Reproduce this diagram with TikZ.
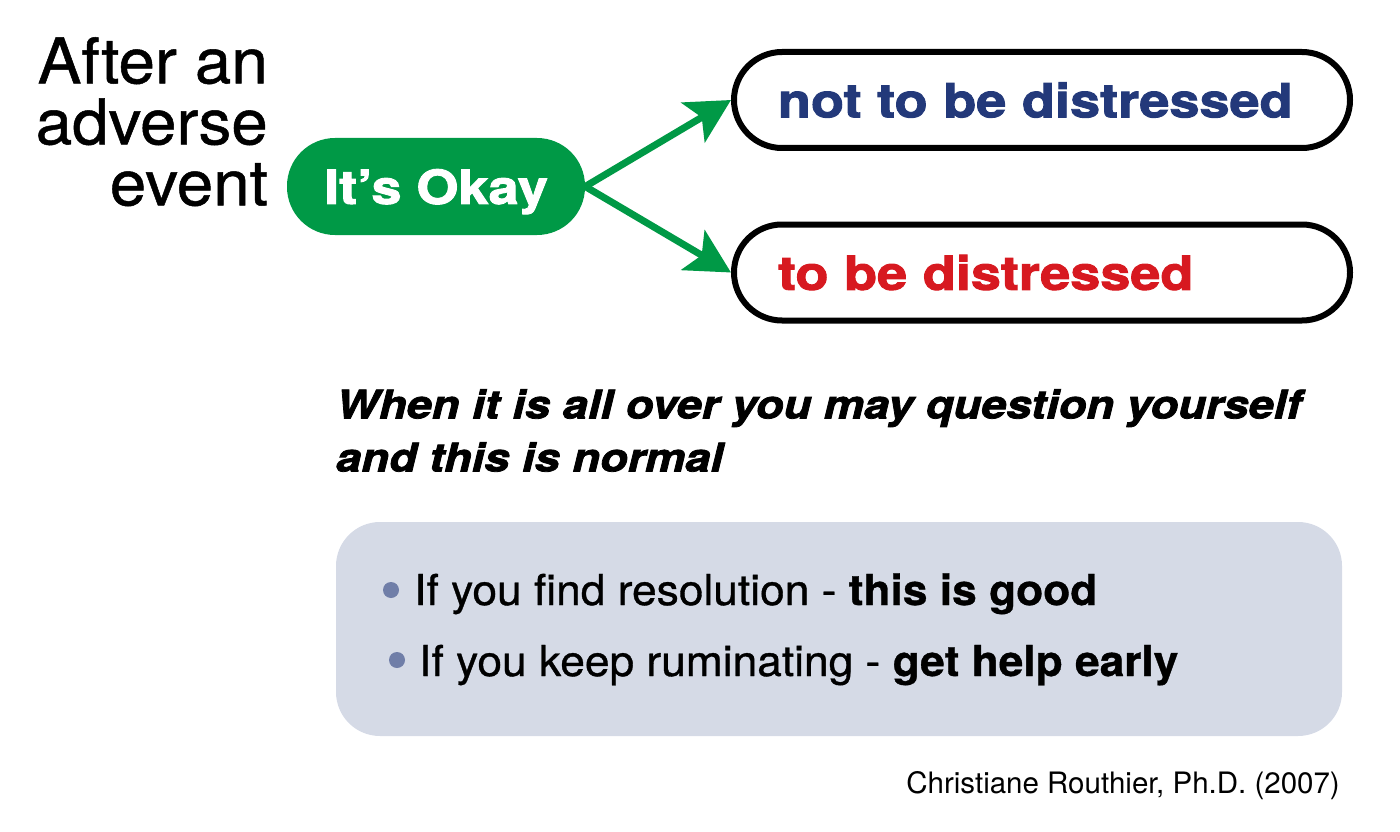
\documentclass[tikz,border=0pt]{standalone}
\usepackage{fontspec}
\setmainfont{TeX Gyre Heros}
\newfontfamily\blackfont{TeX Gyre Heros}[FakeStretch=1.15, FakeBold=2]
\newfontfamily\mediumfont{TeX Gyre Heros}[FakeStretch=1.04, FakeBold=0.8]
\usetikzlibrary{arrows.meta,positioning}

\definecolor{green1}{RGB}{0,153,70}
\definecolor{blue1}{RGB}{35,57,122}
\definecolor{red1}{RGB}{215,25,32}
\definecolor{gray1}{RGB}{213,218,230}
\definecolor{dot1}{RGB}{112,126,168}

\tikzstyle{pill} = [rectangle, rounded corners=48pt, minimum width=298pt, minimum height=97pt, fill=green1, text=white, inner sep=0pt, text depth=0pt, font=\blackfont\bfseries\fontsize{47}{50}\selectfont]
\tikzstyle{choice} = [draw, line width=6pt, rectangle, rounded corners=48pt, minimum width=616pt, minimum height=96pt, text width=528pt, align=left, inner sep=0pt, font=\blackfont\bfseries\fontsize{47}{50}\selectfont]
\tikzstyle{arrow} = [draw, green1, line width=7pt, -{Stealth[length=44pt, width=46pt, inset=10pt]}]
\tikzstyle{bullet} = [circle, fill=dot1, minimum size=16pt, inner sep=0pt]
\tikzstyle{item} = [anchor=base west, inner sep=0pt, font=\mediumfont\fontsize{42.6}{48}\selectfont]

\begin{document}
\begin{tikzpicture}[x=1pt, y=-1pt]
	\useasboundingbox (0,0) rectangle (1400,832);

	\node [anchor=north east, align=right, inner sep=0pt, font=\mediumfont\fontsize{63}{61}\selectfont] (event) at (268,37) {After an\\adverse\\event};
	\node [pill] (okay) at (436,186.5) {It’s Okay};
	\node [choice, text=blue1] (notdist) at (1042,100) {not to be distressed};
	\node [choice, text=red1] (dist) at (1042,272.5) {to be distressed};

	\draw [arrow] (okay.east) to (notdist.west);
	\draw [arrow] (okay.east) to (dist.west);

	\node [anchor=north west, align=left, inner sep=0pt, font=\blackfont\bfseries\itshape\fontsize{39.4}{53}\selectfont] (question) at (336,389) {When it is all over you may question yourself\\and this is normal};

	\node [fill=gray1, rounded corners=44pt, minimum width=1006pt, minimum height=214pt, inner sep=0pt] (panel) at (839,629) {};
	\node [bullet] (dotA) at (391,590) {};
	\node [bullet] (dotB) at (397,660) {};
	\node [item] (itemA) at (414,605) {If you find resolution - \textbf{this is good}};
	\node [item] (itemB) at (419,676) {If you keep ruminating - \textbf{get help early}};

	\node [anchor=base east, inner sep=0pt, font=\fontsize{29.5}{32}\selectfont] (credit) at (1340,793) {Christiane Routhier, Ph.D. (2007)};
\end{tikzpicture}
\end{document}
